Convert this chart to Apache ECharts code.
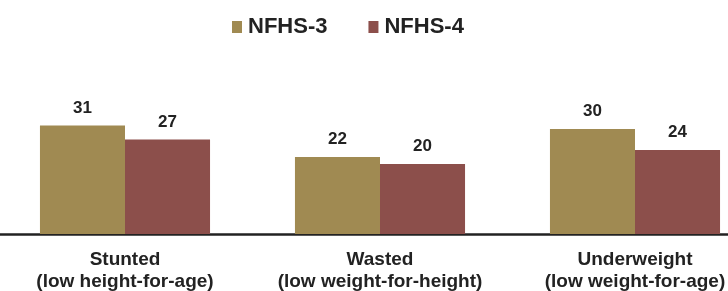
<!DOCTYPE html>
<html>
<head>
<meta charset="utf-8">
<script src="https://cdn.jsdelivr.net/npm/echarts@6/dist/echarts.min.js"></script>
<style>html,body{margin:0;padding:0;background:#fff}#c{width:728px;height:291px}</style>
</head>
<body>
<div id="c"></div>
<script>
const categories = ['Stunted\n(low height-for-age)', 'Wasted\n(low weight-for-height)', 'Underweight\n(low weight-for-age)'];
const seriesNames = ['NFHS-3', 'NFHS-4'];
const nfhs3 = [31, 22, 30];
const nfhs4 = [27, 20, 24];

const chart = echarts.init(document.getElementById('c'));
const font = '"Liberation Sans", Arial, sans-serif';
const labelStyle = { show: true, position: 'top', distance: 9, fontFamily: font, fontWeight: 'bold', fontSize: 17, color: '#222' };
chart.setOption({
  animation: false,
  legend: {
    data: seriesNames,
    left: 227, top: 11,
    itemWidth: 10, itemHeight: 12, itemGap: 41,
    icon: 'rect',
    textStyle: { fontFamily: font, fontWeight: 'bold', fontSize: 22, color: '#222', padding: [0,0,0,1] }
  },
  grid: { left: -2.5, width: 765, top: 94, bottom: 57, containLabel: false, outerBoundsMode: 'none' },
  xAxis: {
    type: 'category', data: categories,
    axisLine: { lineStyle: { color: '#222', width: 2.5 } },
    axisTick: { show: false },
    axisLabel: { interval: 0, fontFamily: font, fontWeight: 'bold', fontSize: 19, color: '#222', lineHeight: 22, margin: 15 }
  },
  yAxis: { type: 'value', min: 0, max: 40, show: false, splitLine: { show: false } },
  series: [
    { name: 'NFHS-3', type: 'bar', data: nfhs3, barGap: '0%', barCategoryGap: '33.3%', itemStyle: { color: '#A08A52' }, label: labelStyle },
    { name: 'NFHS-4', type: 'bar', data: nfhs4, itemStyle: { color: '#8C4F4B' }, label: labelStyle }
  ]
});
</script>
</body>
</html>
